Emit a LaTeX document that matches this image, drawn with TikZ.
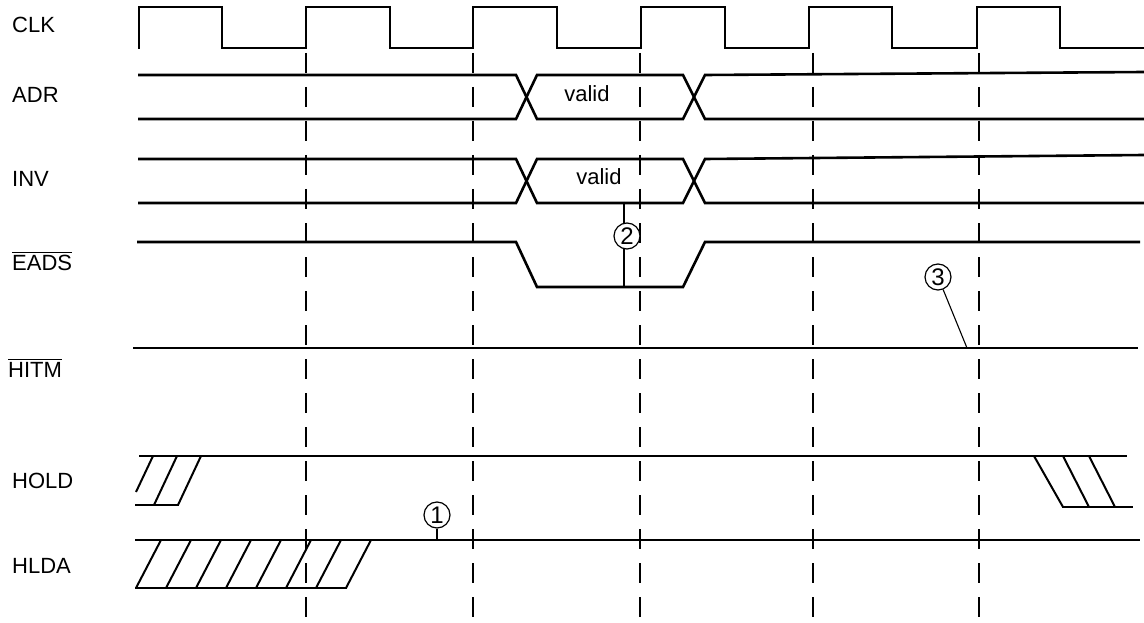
\documentclass[tikz,border=0pt]{standalone}
\usepackage{fontspec}
\setmainfont{Liberation Sans}
\newcommand{\barred}[1]{\setbox0\hbox{#1}\rlap{\rule[\dimexpr\ht0+1.6pt\relax]{\wd0}{1.5pt}}\box0}
\begin{document}
\begin{tikzpicture}[x=1pt,y=-1pt,
  sig/.style={line width=2.6pt,line join=miter},
  hatch/.style={line width=2pt},
  grid/.style={line width=2pt,dash pattern=on 20pt off 14pt},
  lbl/.style={anchor=base west,inner sep=0pt,font=\fontsize{22}{26}\selectfont},
  txt/.style={inner sep=0pt,font=\fontsize{22}{26}\selectfont},
  circmark/.style={draw,circle,line width=1.2pt,minimum size=26pt,inner sep=0pt,fill=white,font=\fontsize{24}{26}\selectfont},
  leadthick/.style={line width=2pt},
  leadthin/.style={line width=1.1pt}]
\useasboundingbox (0,0) rectangle (1144,623);
% dashed reference lines
\foreach \x in {306,473,640,813,979} \draw[grid] (\x,53) -- (\x,623);
% labels
\node[lbl] (lclk) at (12,33) {CLK};
\node[lbl] (ladr) at (12,103) {ADR};
\node[lbl] (linv) at (12,187) {INV};
\node[lbl] (leads) at (12,270) {\barred{EADS}};
\node[lbl] (lhitm) at (8,377) {\barred{HITM}};
\node[lbl] (lhold) at (12,488) {HOLD};
\node[lbl] (lhlda) at (12,573) {HLDA};
% CLK
\draw[sig] (139,49) -- (139,7) -- (222,7) -- (222,48) -- (306,48) -- (306,7) -- (390,7) -- (390,48) -- (473,48) -- (473,7) -- (557,7) -- (557,48) -- (641,48) -- (641,7) -- (725,7) -- (725,48) -- (809,48) -- (809,7) -- (892,7) -- (892,48) -- (977,48) -- (977,7) -- (1060,7) -- (1060,48) -- (1144,48);
% ADR
\draw[sig] (138,75) -- (516,75) -- (537,119) -- (683,119) -- (705,75) -- (1144,72);
\draw[sig] (138,119) -- (516,119) -- (537,75) -- (683,75) -- (705,119) -- (1144,119);
\node[txt] (vadr) at (587,94) {valid};
% INV
\draw[sig] (138,159) -- (516,159) -- (537,203) -- (683,203) -- (705,159) -- (1144,155);
\draw[sig] (138,203) -- (516,203) -- (537,159) -- (683,159) -- (705,203) -- (1144,203);
\node[txt] (vinv) at (599,177) {valid};
% EADS
\draw[sig] (137,242) -- (516,242) -- (537,287) -- (683,287) -- (705,242) -- (1140,242);
% HITM
\draw[sig] (133,348) -- (1138,348);
% HOLD
\draw[sig] (139,456) -- (1127,456);
\draw[sig] (135,505) -- (179,505);
\draw[hatch] (136,492) -- (153,456);
\draw[hatch] (154,505) -- (177,456);
\draw[hatch] (178,505) -- (201,456);
\draw[hatch] (1034,456) -- (1063,507);
\draw[hatch] (1063,456) -- (1089,507);
\draw[hatch] (1089,456) -- (1115,507);
\draw[sig] (1062,507) -- (1133,507);
% HLDA
\draw[sig] (135,540) -- (1140,540);
\draw[sig] (135,588) -- (347,588);
\foreach \k in {0,...,7} \draw[hatch] ({136+30*\k},588) -- ({161+30*\k},540);
% markers
\coordinate (l2a) at (624,202);
\coordinate (l2b) at (624,287);
\draw[leadthick] (l2a) -- (l2b);
\node[circmark] (m2) at (627,236) {2};
\coordinate (l1) at (437,540);
\node[circmark] (m1) at (437,515) {1};
\draw[leadthick] (m1) -- (l1);
\coordinate (l3) at (967,348);
\node[circmark] (m3) at (938,277) {3};
\draw[leadthin] (m3) -- (l3);
\end{tikzpicture}
\end{document}
